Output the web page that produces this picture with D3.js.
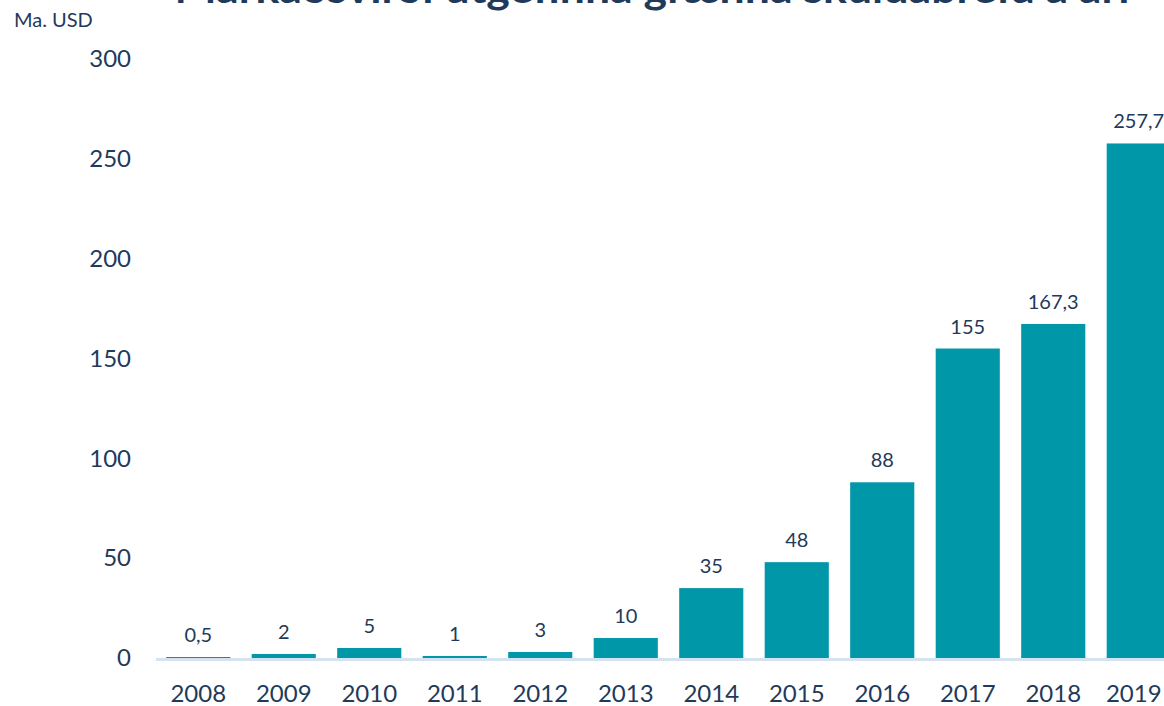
<!DOCTYPE html>
<html>
<head>
<meta charset="utf-8">
<script src="https://cdn.jsdelivr.net/npm/d3@7"></script>
<style>
  body { margin: 0; background: #fff; }
  svg { display: block; }
  text { font-family: Lato, "Noto Sans", sans-serif; fill: #1f3a5a; }
</style>
</head>
<body>
<svg id="chart" width="1164" height="706"></svg>
<script>
// data
var years = ["2008","2009","2010","2011","2012","2013","2014","2015","2016","2017","2018","2019"];
var values = [0.5, 2, 5, 1, 3, 10, 35, 48, 88, 155, 167.3, 257.7];
var yTicks = [0, 50, 100, 150, 200, 250, 300];

var svg = d3.select("#chart");

var x = d3.scaleBand()
  .domain(years)
  .range([155.5, 1181.5])
  .paddingInner(0.25)
  .paddingOuter(0.125);

var y = d3.scaleLinear()
  .domain([0, 300])
  .range([658, 59]);

// title (cut off at top of the picture)
svg.append("text")
  .attr("x", 652)
  .attr("y", 3)
  .attr("text-anchor", "middle")
  .style("font-size", "40px")
  .style("font-weight", "bold")
  .attr("textLength", 955)
  .attr("lengthAdjust", "spacingAndGlyphs")
  .text("Markaðsvirði útgefinna grænna skuldabréfa á ári");

svg.append("text")
  .attr("x", 14)
  .attr("y", 27)
  .style("font-size", "20px")
  .text("Ma. USD");

// y axis labels
var yAxis = d3.axisLeft(y).tickValues(yTicks).tickSize(0).tickPadding(0);
svg.append("g")
  .attr("transform", "translate(131,0)")
  .call(yAxis)
  .call(function(g){ g.select(".domain").remove(); })
  .selectAll("text")
  .style("font-size", "24px")
  .style("font-family", "Lato, 'Noto Sans', sans-serif")
  .attr("fill", "#1f3a5a");

// bars
svg.append("g").selectAll("rect")
  .data(values)
  .enter().append("rect")
  .attr("x", function(d,i){ return x(years[i]); })
  .attr("width", x.bandwidth())
  .attr("y", function(d){ return y(d); })
  .attr("height", function(d){ return y(0) - y(d); })
  .style("fill", "#0097a9");

// baseline
svg.append("line")
  .attr("x1", 156).attr("x2", 1164)
  .attr("y1", y(0) + 1.5).attr("y2", y(0) + 1.5)
  .style("stroke", "#d5e3f1")
  .style("stroke-width", 3);

// value labels
svg.append("g").selectAll("text")
  .data(values)
  .enter().append("text")
  .attr("x", function(d,i){ return x(years[i]) + x.bandwidth()/2; })
  .attr("y", function(d){ return y(d) - 15; })
  .attr("text-anchor", "middle")
  .style("font-size", "20px")
  .text(function(d){ return String(d).replace(".", ","); });

// x axis labels
var xAxis = d3.axisBottom(x).tickSize(0).tickPadding(0);
svg.append("g")
  .attr("transform", "translate(0,685)")
  .call(xAxis)
  .call(function(g){ g.select(".domain").remove(); })
  .selectAll("text")
  .style("font-size", "24px")
  .style("font-family", "Lato, 'Noto Sans', sans-serif")
  .attr("fill", "#1f3a5a")
  .attr("dx", function(d){ return d === "2019" ? -5 : 0; });
</script>
</body>
</html>
